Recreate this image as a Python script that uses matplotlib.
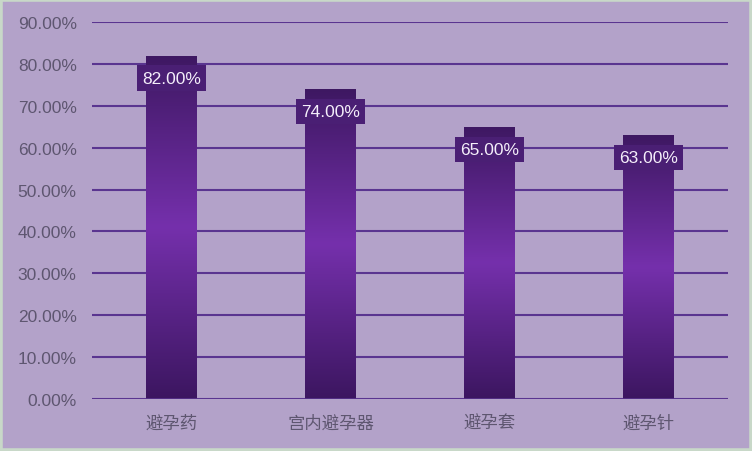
import matplotlib
matplotlib.use("Agg")
import matplotlib.pyplot as plt
import numpy as np
from matplotlib.colors import LinearSegmentedColormap

plt.rcParams['font.family'] = ['Liberation Sans', 'Noto Sans CJK SC', 'DejaVu Sans']

categories = ["避孕药", "宫内避孕器", "避孕套", "避孕针"]
values = [82.0, 74.0, 65.0, 63.0]
yticks = [0, 10, 20, 30, 40, 50, 60, 70, 80, 90]

bg = "#b3a2c9"
fig = plt.figure(figsize=(7.52, 4.52), dpi=100, facecolor=bg)
ax = fig.add_axes([92/752, 1-400/452, 636/752, 377/452])
ax.set_facecolor(bg)

x = np.arange(len(categories))
bars = ax.bar(x, values, width=0.315, color="#6a2c98", zorder=3)

cmap = LinearSegmentedColormap.from_list("g", [
    (0.0, "#3c1660"), (0.5, "#7530ac"), (1.0, "#3e1862")])
grad = np.linspace(0, 1, 256).reshape(-1, 1)
for b in bars:
    x0, y0 = b.get_x(), b.get_y()
    w, h = b.get_width(), b.get_height()
    im = ax.imshow(grad, cmap=cmap, aspect="auto", origin="lower",
                   extent=[x0, x0 + w, y0, y0 + h], zorder=3.5)
    im.set_clip_path(b)

for xi, v in zip(x, values):
    ax.text(xi, v - 5.4, f"{v:.2f}%", ha="center", va="center",
            fontsize=12.5, color="#f4eefa", zorder=6,
            bbox=dict(boxstyle="square,pad=0.3", fc="#4a1f74", ec="none"))

ax.set_xlim(-0.5, len(categories) - 0.5)
ax.set_ylim(0, 90)
ax.set_yticks(yticks)
ax.set_yticklabels([f"{t:.2f}%" for t in yticks])
ax.set_xticks(x)
ax.set_xticklabels(categories)
ax.grid(axis="y", color="#5a3590", linewidth=1.5, zorder=1)
ax.tick_params(axis="both", length=0, labelsize=12.5, colors="#5e5670", pad=11)
ax.tick_params(axis="x", pad=11)
for s in ax.spines.values():
    s.set_visible(False)
ax.axhline(0, color="#5a3590", linewidth=1.8, zorder=4)

fig.patches.append(plt.Rectangle((0, 0), 1, 1, transform=fig.transFigure,
                                 fill=False, ec="#c8d8c8", lw=4))
fig.savefig("out.png", dpi=100, facecolor=bg)
